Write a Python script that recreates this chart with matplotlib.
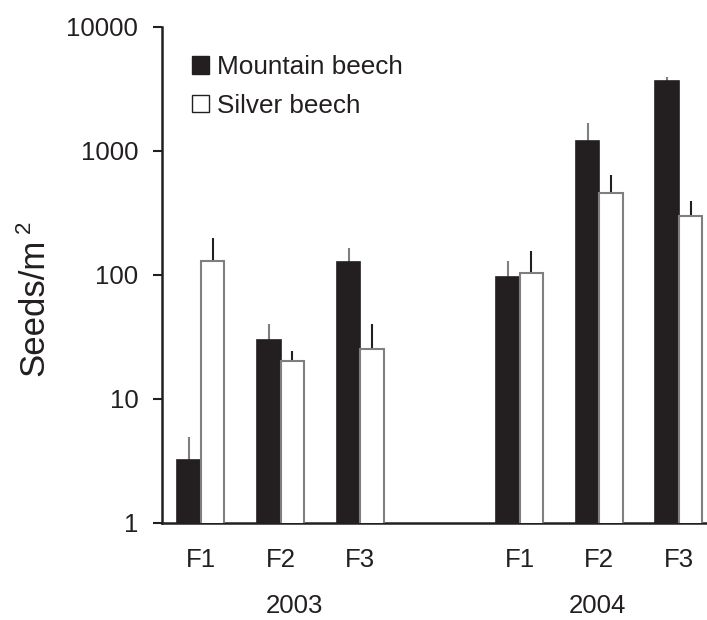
import matplotlib
matplotlib.use("Agg")
import matplotlib.pyplot as plt
from matplotlib.patches import Patch
from matplotlib.transforms import blended_transform_factory
import numpy as np

# Seed fall per site and year
years = ["2003", "2004"]
sites = ["F1", "F2", "F3"]
mountain = [3.2, 30, 127, 96, 1205, 3670]
mountain_err = [1.7, 10, 38, 34, 480, 280]
silver = [130, 20.3, 25.3, 104, 459, 299]
silver_err = [69, 4.1, 15, 52, 181, 96]

ink = "#231f20"
edge_grey = "#7f7f7f"

plt.rcParams['font.family'] = ['Liberation Sans', 'DejaVu Sans']
plt.rcParams['axes.edgecolor'] = ink
plt.rcParams['text.color'] = ink

fig = plt.figure(figsize=(7.07, 6.2), dpi=100)
ax = fig.add_axes([0.229, 0.1565, 0.7696, 0.80])
ax.set_yscale("log")

# F1..F3 of 2003, a gap, then F1..F3 of 2004
pos = np.array([0, 1, 2, 4, 5, 6])
width = 0.295

ax.bar(pos - width / 2, mountain, width, color=ink,
       edgecolor=ink, linewidth=1.2, zorder=3)
ax.bar(pos + width / 2, silver, width, color="white",
       edgecolor=edge_grey, linewidth=1.5, zorder=3)

# only the upper half of each error bar is drawn
ax.errorbar(pos - width / 2, mountain,
            yerr=[np.zeros(len(pos)), mountain_err],
            fmt="none", ecolor=edge_grey, elinewidth=1.5, capsize=0, zorder=2)
ax.errorbar(pos + width / 2, silver,
            yerr=[np.zeros(len(pos)), silver_err],
            fmt="none", ecolor=ink, elinewidth=1.5, capsize=0, zorder=2)

ax.set_ylim(1, 10000)
ax.set_xlim(-0.49, 6.34)
ax.set_yticks([1, 10, 100, 1000, 10000])
ax.set_yticklabels(["1", "10", "100", "1000", "10000"])
ax.yaxis.set_minor_locator(matplotlib.ticker.NullLocator())
ax.tick_params(axis="y", direction="out", length=6.5, width=1.5,
               color=ink, labelsize=18.5, pad=10.5, labelcolor=ink)

ax.set_xticks(pos)
ax.set_xticklabels(sites * 2)
ax.tick_params(axis="x", length=0, labelsize=18.5, pad=18, labelcolor=ink)

for side in ["top", "right"]:
    ax.spines[side].set_visible(False)
for side in ["left", "bottom"]:
    ax.spines[side].set_linewidth(1.8)
    ax.spines[side].set_color(ink)

# year labels under the site labels
trans = blended_transform_factory(ax.transData, ax.transAxes)
for x, year in zip([1.17, 4.98], years):
    ax.text(x, -0.181, year, transform=trans, ha="center", va="baseline",
            fontsize=18.5)

fig.text(34 / 707, 1 - 307 / 620, "Seeds/m", rotation=90,
         ha="center", va="center", fontsize=25)
fig.text(24 / 707, 1 - 227 / 620, "2", rotation=90,
         ha="center", va="center", fontsize=16)

handles = [Patch(facecolor=ink, edgecolor=ink, label="Mountain beech"),
           Patch(facecolor="white", edgecolor=ink, linewidth=1.0,
                 label="Silver beech")]
ax.legend(handles=handles, loc="upper left", bbox_to_anchor=(0.056, 0.943),
          frameon=False, fontsize=18.8, handlelength=0.65, handleheight=0.65,
          handletextpad=0.31, labelspacing=0.55, borderpad=0, borderaxespad=0)

fig.savefig("out.png", dpi=100)
